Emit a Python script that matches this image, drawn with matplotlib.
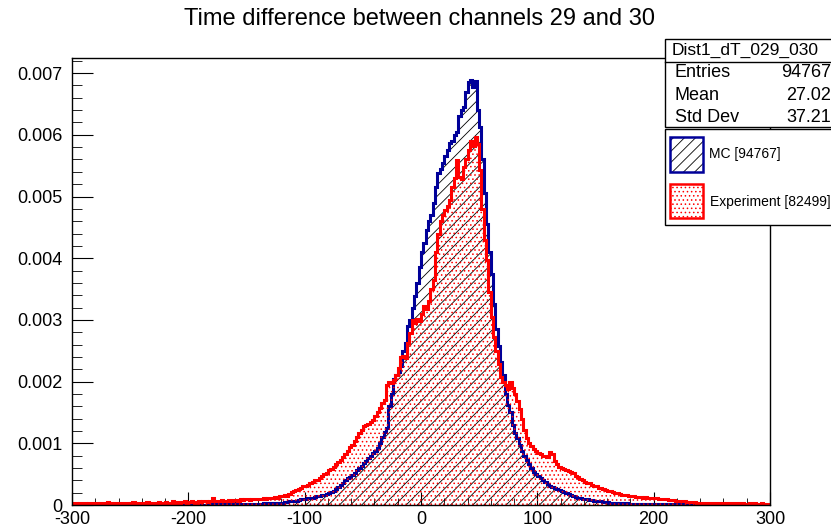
import numpy as np
import matplotlib
matplotlib.use('Agg')
import matplotlib.pyplot as plt
from matplotlib.patches import Rectangle
from matplotlib.lines import Line2D
from matplotlib.ticker import MultipleLocator, FuncFormatter


plt.rcParams['font.family'] = ['Liberation Sans', 'DejaVu Sans']
plt.rcParams['axes.unicode_minus'] = False
plt.rcParams['hatch.linewidth'] = 0.6

# canvas size in pixels
W, H = 831, 528

# histogram binning, contents are in units of 1e-5
BIN_LO, BIN_HI, BIN_WIDTH = -300, 300, 2
SCALE = 1e-5

TITLE = 'Time difference between channels 29 and 30'
STATS_NAME = 'Dist1_dT_029_030'
STATS_ROWS = [('Entries', '94767'), ('Mean', '27.02'), ('Std Dev', '37.21')]
LEGEND_LABELS = ['MC [94767]', 'Experiment [82499]']

MC_COUNTS = [
    0, 0, 0, 0, 0, 0, 0, 0, 0, 0,
    0, 0, 0, 0, 0, 0, 0, 0, 0, 0,
    0, 0, 0, 0, 0, 0, 0, 0, 0, 0,
    0, 0, 0, 0, 0, 0, 0, 0, 0, 0,
    0, 0, 0, 0, 0, 0, 1, 0, 0, 0,
    0, 0, 1, 0, 0, 1, 0, 0, 1, 0,
    1, 0, 1, 1, 0, 1, 1, 0, 1, 1,
    1, 1, 1, 2, 1, 1, 2, 1, 2, 2,
    2, 2, 3, 2, 3, 3, 4, 3, 4, 4,
    4, 5, 5, 6, 6, 7, 7, 8, 9, 9,
    10, 11, 12, 12, 13, 14, 15, 16, 17, 18,
    19, 21, 23, 26, 29, 32, 36, 40, 44, 46,
    48, 52, 57, 60, 64, 68, 72, 76, 80, 84,
    88, 92, 100, 110, 118, 125, 160, 180, 205, 210,
    215, 225, 250, 262, 290, 300, 320, 338, 360, 385,
    410, 425, 445, 460, 470, 490, 515, 538, 545, 555,
    565, 575, 586, 590, 600, 605, 630, 640, 645, 670,
    686, 689, 678, 688, 640, 613, 560, 505, 455, 410,
    375, 325, 285, 258, 232, 210, 180, 162, 150, 130,
    117, 108, 98, 88, 80, 73, 66, 60, 54, 50,
    47, 44, 40, 37, 34, 31, 29, 28, 26, 24,
    23, 21, 19, 18, 16, 15, 13, 12, 11, 10,
    10, 9, 8, 8, 7, 7, 6, 6, 5, 5,
    5, 4, 4, 4, 3, 3, 3, 3, 3, 2,
    2, 2, 2, 2, 2, 1, 2, 1, 1, 1,
    1, 1, 1, 1, 1, 1, 0, 1, 1, 0,
    1, 0, 1, 0, 0, 1, 0, 0, 0, 0,
    0, 0, 0, 0, 0, 0, 0, 0, 0, 0,
    0, 0, 0, 0, 0, 0, 0, 0, 0, 0,
    0, 0, 0, 0, 0, 0, 0, 0, 0, 0,
]

EXP_COUNTS = [
    3, 4, 2, 3, 4, 3, 2, 4, 3, 3,
    3, 2, 4, 3, 3, 5, 3, 2, 4, 3,
    4, 3, 3, 4, 2, 4, 5, 3, 4, 3,
    4, 3, 5, 4, 3, 4, 4, 5, 3, 4,
    5, 4, 4, 6, 4, 5, 4, 5, 6, 4,
    5, 6, 5, 4, 6, 5, 7, 6, 5, 6,
    12, 7, 6, 7, 8, 6, 7, 8, 7, 8,
    8, 7, 9, 8, 9, 10, 8, 9, 10, 9,
    10, 9, 11, 10, 12, 11, 12, 13, 12, 14,
    14, 16, 15, 18, 21, 22, 24, 26, 27, 30,
    31, 33, 35, 37, 40, 41, 44, 47, 50, 52,
    56, 58, 62, 66, 70, 73, 77, 82, 88, 94,
    98, 104, 110, 116, 122, 128, 130, 132, 134, 138,
    145, 150, 158, 165, 170, 195, 200, 198, 203, 210,
    222, 240, 242, 238, 262, 279, 300, 295, 302, 298,
    310, 322, 318, 330, 350, 365, 410, 440, 460, 470,
    478, 485, 495, 516, 530, 559, 532, 528, 548, 560,
    575, 590, 582, 597, 585, 543, 480, 430, 397, 345,
    305, 272, 250, 228, 208, 200, 195, 188, 200, 190,
    180, 168, 155, 140, 122, 108, 100, 95, 90, 87,
    84, 82, 80, 79, 78, 86, 82, 72, 66, 62,
    60, 58, 57, 55, 54, 52, 47, 45, 42, 40,
    38, 36, 35, 33, 31, 30, 28, 27, 26, 24,
    23, 22, 21, 20, 19, 18, 17, 16, 16, 15,
    14, 14, 13, 13, 13, 12, 13, 12, 12, 11,
    11, 11, 10, 10, 9, 9, 8, 8, 8, 7,
    7, 6, 6, 6, 5, 5, 5, 5, 4, 4,
    4, 4, 4, 3, 4, 3, 4, 3, 3, 4,
    3, 3, 3, 4, 3, 3, 2, 3, 3, 2,
    2, 3, 2, 3, 2, 2, 3, 2, 2, 2,
]

MC_COLOR = '#000099'
EXP_COLOR = '#ff0000'


def fx(px):
    return px / W


def fy(py):
    return 1 - py / H


def add_box(fig, x0, y0, x1, y1, **kw):
    """rectangle given in pixel corners (top-left origin)"""
    rect = Rectangle((fx(x0), fy(y1)), fx(x1) - fx(x0), fy(y0) - fy(y1),
                     transform=fig.transFigure, **kw)
    fig.add_artist(rect)
    return rect


def draw_stats(fig):
    add_box(fig, 665, 39, 835, 127, facecolor='white', edgecolor='black',
            lw=1.0, zorder=5)
    fig.add_artist(Line2D([fx(665), fx(835)], [fy(62), fy(62)],
                          transform=fig.transFigure, color='black', lw=1.0,
                          zorder=6))
    fig.text(fx(672), fy(50), STATS_NAME, fontsize=12.5, va='center',
             ha='left', zorder=7)
    for i, (name, val) in enumerate(STATS_ROWS):
        y = fy(73 + 22 * i)
        fig.text(fx(675), y, name, fontsize=13, va='center', ha='left',
                 zorder=7)
        fig.text(fx(831), y, val, fontsize=13, va='center', ha='right',
                 zorder=7)


def draw_legend(fig):
    add_box(fig, 665, 129, 835, 225, facecolor='white', edgecolor='black',
            lw=1.0, zorder=5)
    # MC swatch
    add_box(fig, 670, 137, 703, 172, facecolor='white', edgecolor='black',
            hatch='///', lw=0, zorder=6)
    add_box(fig, 670, 137, 703, 172, facecolor='none', edgecolor=MC_COLOR,
            lw=1.8, zorder=7)
    # Experiment swatch
    add_box(fig, 670, 184, 703, 218, facecolor='white', edgecolor=EXP_COLOR,
            hatch='....', lw=0, zorder=6)
    add_box(fig, 670, 184, 703, 218, facecolor='none', edgecolor=EXP_COLOR,
            lw=1.8, zorder=7)
    fig.text(fx(709), fy(154), LEGEND_LABELS[0], fontsize=10, va='center',
             ha='left', zorder=7)
    fig.text(fx(710), fy(202), LEGEND_LABELS[1], fontsize=10, va='center',
             ha='left', zorder=7)


def main():
    edges = np.arange(BIN_LO, BIN_HI + BIN_WIDTH, BIN_WIDTH)
    mc = np.array(MC_COUNTS) * SCALE
    exp = np.array(EXP_COUNTS) * SCALE

    fig = plt.figure(figsize=(W / 100, H / 100), dpi=100)
    ax = fig.add_axes([fx(72), fy(505), fx(770) - fx(72), fy(58) - fy(505)])

    # MC: black hatch + blue outline
    ax.stairs(mc, edges, fill=True, facecolor='none', edgecolor='black',
              hatch='///', lw=0, zorder=1)
    ax.stairs(mc, edges, color=MC_COLOR, lw=2.2, zorder=2)
    # Experiment drawn on top: red dots + red outline
    ax.stairs(exp, edges, fill=True, facecolor='none', edgecolor=EXP_COLOR,
              hatch='....', lw=0, zorder=3)
    ax.stairs(exp, edges, color=EXP_COLOR, lw=2.2, zorder=4)

    ax.set_xlim(BIN_LO, BIN_HI)
    ax.set_ylim(0, 0.007245)

    ax.xaxis.set_major_locator(MultipleLocator(100))
    ax.xaxis.set_minor_locator(MultipleLocator(20))
    ax.yaxis.set_major_locator(MultipleLocator(0.001))
    ax.yaxis.set_minor_locator(MultipleLocator(0.0002))
    ax.yaxis.set_major_formatter(
        FuncFormatter(lambda v, p: '0' if abs(v) < 1e-9 else f'{v:.3f}'))

    ax.tick_params(axis='both', which='both', direction='in',
                   top=False, right=False, labelsize=13, color='black')
    ax.tick_params(axis='y', which='major', length=15, pad=7)
    ax.tick_params(axis='y', which='minor', length=7.5)
    ax.tick_params(axis='x', which='major', length=9.6, pad=4)
    ax.tick_params(axis='x', which='minor', length=4.8)
    for sp in ax.spines.values():
        sp.set_linewidth(1.0)
        sp.set_zorder(5)

    fig.text(fx(420), fy(19), TITLE, fontsize=17, ha='center', va='center')

    draw_stats(fig)
    draw_legend(fig)

    fig.savefig('out.png', dpi=100)


if __name__ == '__main__':
    main()
